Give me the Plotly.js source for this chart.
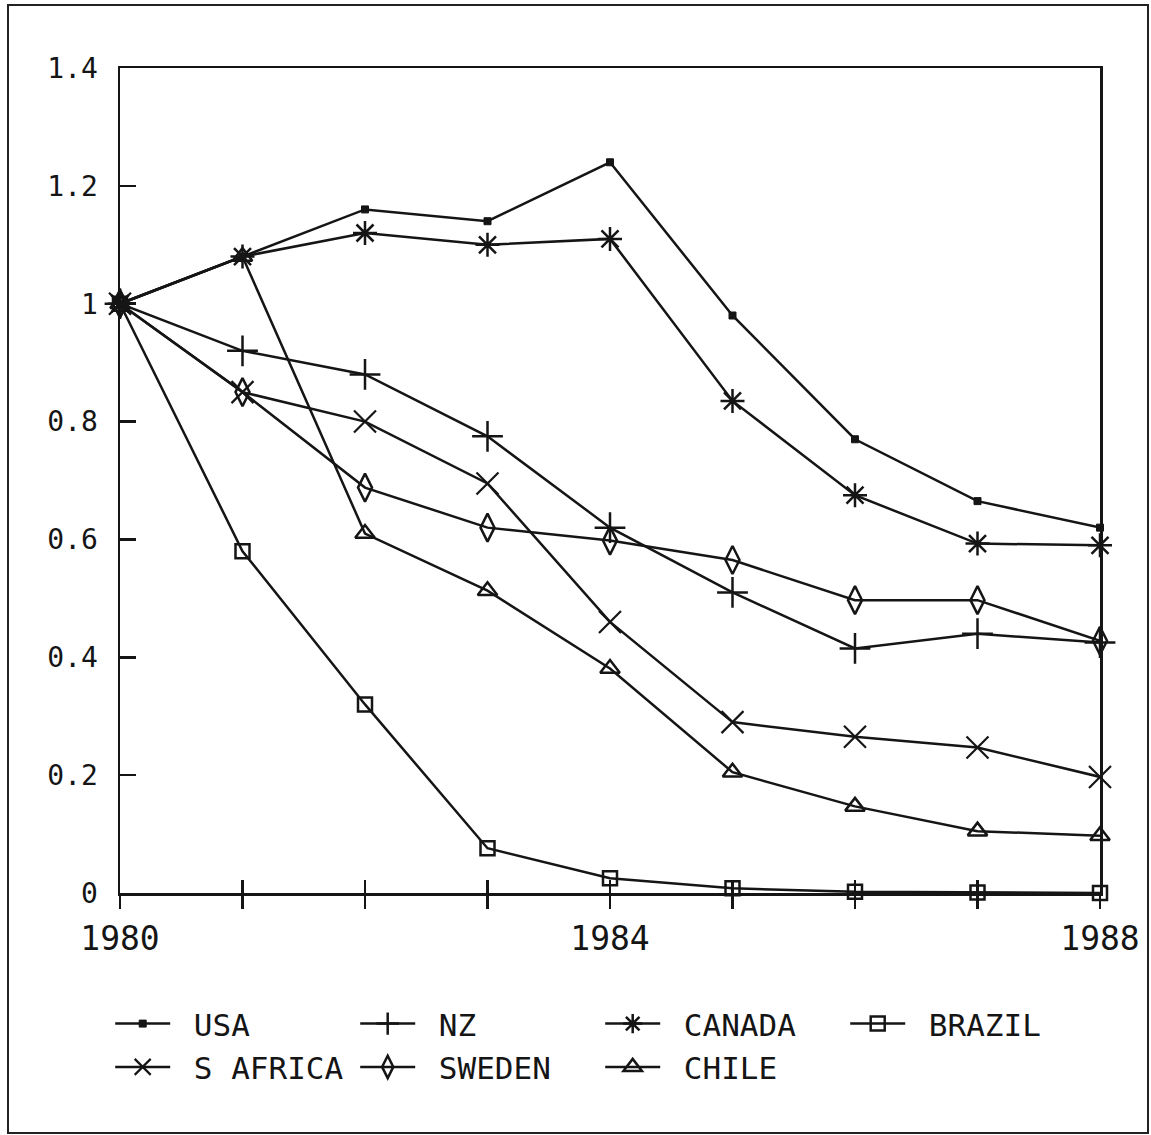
<!DOCTYPE html>
<html>
<head>
<meta charset="utf-8">
<script src="https://cdn.plot.ly/plotly-3.0.1.min.js"></script>
<style>
html,body{margin:0;padding:0;background:#fff;}
#wrap{position:relative;width:1151px;height:1135px;}
#chart{width:1151px;height:1135px;}
#frame{position:absolute;left:7px;top:4px;width:1138px;height:1126px;border:2px solid #222;pointer-events:none;}
</style>
</head>
<body>
<div id="wrap"><div id="chart"></div><div id="frame"></div></div>
<script>
const years = [1980, 1981, 1982, 1983, 1984, 1985, 1986, 1987, 1988];
const xTickText = ["1980", "", "", "", "1984", "", "", "", "1988"];
const yTickVals = [0, 0.2, 0.4, 0.6, 0.8, 1, 1.2, 1.4];
const yTickText = ['0', '0.2', '0.4', '0.6', '0.8', '1', '1.2', '1.4'];
const seriesNames = ['USA', 'NZ', 'CANADA', 'BRAZIL', 'S AFRICA', 'SWEDEN', 'CHILE'];
const usa     = [1.00, 1.08, 1.16, 1.14, 1.24, 0.98, 0.77, 0.665, 0.62];
const nz      = [1.00, 0.92, 0.88, 0.775, 0.62, 0.51, 0.415, 0.44, 0.425];
const canada  = [1.00, 1.08, 1.12, 1.10, 1.11, 0.835, 0.675, 0.593, 0.59];
const brazil  = [1.00, 0.58, 0.32, 0.076, 0.025, 0.008, 0.002, 0.001, 0.0];
const safrica = [1.00, 0.85, 0.80, 0.695, 0.46, 0.29, 0.265, 0.247, 0.197];
const sweden  = [1.00, 0.85, 0.688, 0.62, 0.598, 0.565, 0.497, 0.497, 0.428];
const chile   = [1.00, 1.08, 0.61, 0.513, 0.381, 0.205, 0.147, 0.105, 0.097];

const ink = '#151515';
function tr(name, y, symbol, size, mlw) {
  return {
    x: years, y: y, name: '\u00a0' + name, type: 'scatter', mode: 'lines+markers',
    cliponaxis: false,
    line: {color: ink, width: 2.5},
    marker: {symbol: symbol, size: size, color: ink,
             line: {color: ink, width: mlw}}
  };
}
const data = [
  tr(seriesNames[0], usa, 'square', 7, 1),
  tr(seriesNames[1], nz, 'cross-thin', 22, 2.5),
  tr(seriesNames[2], canada, 'asterisk', 20, 2.5),
  tr(seriesNames[3], brazil, 'square-open', 14, 2.5),
  tr(seriesNames[4], safrica, 'x-thin', 22, 2.2),
  tr(seriesNames[5], sweden, 'diamond-tall-open', 20, 2.5),
  tr(seriesNames[6], chile, 'triangle-up-open', 17, 2.5),
  {x: years, y: years.map(() => null), xaxis: 'x2', yaxis: 'y', showlegend: false, hoverinfo: 'skip', type: 'scatter'}
];
const fam = 'DejaVu Sans Mono, monospace';
const layout = {
  width: 1151, height: 1135,
  margin: {l: 120, r: 51, t: 68, b: 242},
  paper_bgcolor: '#fff', plot_bgcolor: '#fff',
  showlegend: true,
  font: {family: fam, size: 28, color: ink},
  xaxis: {
    range: [1980, 1988], tickvals: years, ticktext: xTickText,
    ticks: 'outside', ticklen: 13, tickwidth: 2.5, tickcolor: ink,
    showline: true, linecolor: ink, linewidth: 2.5, mirror: true,
    showgrid: false, zeroline: false,
    tickfont: {family: fam, size: 33, color: ink}, ticklabelstandoff: 2
  },
  xaxis2: {
    range: [1980, 1988], overlaying: 'x', anchor: 'y', side: 'bottom',
    tickvals: years, showticklabels: false,
    ticks: 'inside', ticklen: 13, tickwidth: 2.5, tickcolor: ink,
    showline: false, showgrid: false, zeroline: false
  },
  yaxis: {
    range: [0, 1.4], tickvals: yTickVals, ticktext: yTickText,
    ticks: 'inside', ticklen: 16, tickwidth: 2.5, tickcolor: ink,
    showline: true, linecolor: ink, linewidth: 2.5, mirror: true,
    showgrid: false, zeroline: false,
    tickfont: {family: fam, size: 28, color: ink}, ticklabelstandoff: 14
  },
  legend: {
    orientation: 'h', x: -0.01, xanchor: 'left', y: -0.126, yanchor: 'top',
    entrywidth: 175, entrywidthmode: 'pixels', itemwidth: 55,
    font: {family: fam, size: 31, color: ink},
    tracegroupgap: 0, traceorder: 'normal', bgcolor: 'rgba(0,0,0,0)'
  }
};
Plotly.newPlot('chart', data, layout, {displayModeBar: false, staticPlot: true});
</script>
</body>
</html>
